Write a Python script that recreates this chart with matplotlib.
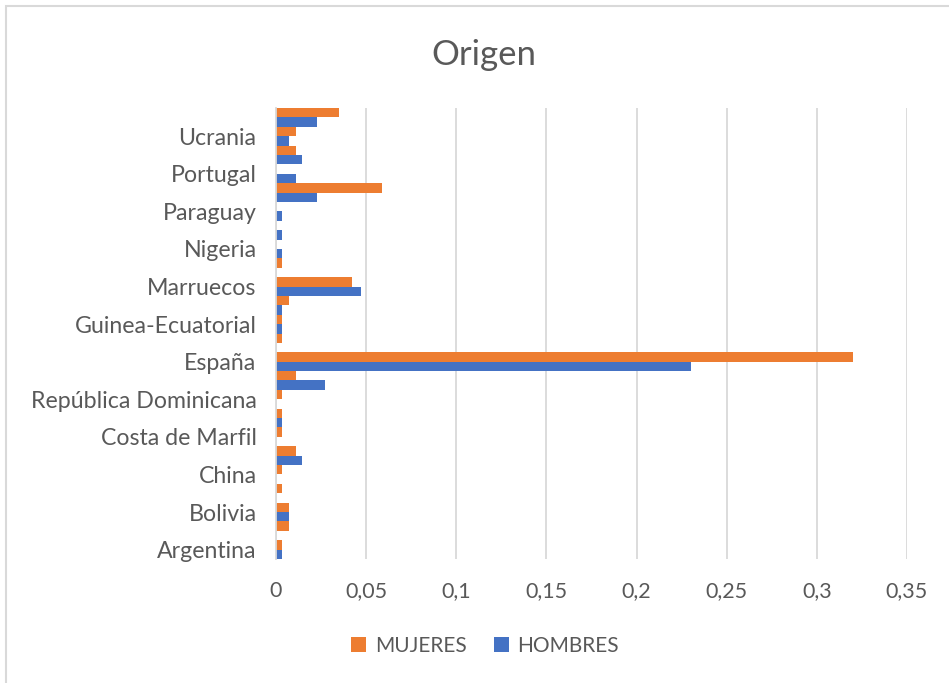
import matplotlib.pyplot as plt
import numpy as np
from matplotlib.patches import Rectangle

paises = ["Argentina", "Bangladesh", "Bolivia", "Brasil", "China", "Colombia",
          "Costa de Marfil", "Cuba", "República Dominicana", "Ecuador", "España",
          "Francia", "Guinea-Ecuatorial", "Italia", "Marruecos", "México",
          "Nigeria", "Pakistán", "Paraguay", "Perú", "Portugal", "Rumanía",
          "Ucrania", "Venezuela"]
mujeres = [0.0036, 0.0072, 0.0072, 0.0036, 0.0036, 0.011, 0.0036, 0.0036, 0.0036,
           0.011, 0.32, 0.0036, 0.0036, 0.0072, 0.042, 0.0036, 0, 0, 0,
           0.059, 0, 0.011, 0.011, 0.035]
hombres = [0.0036, 0, 0.0072, 0, 0, 0.0145, 0, 0.0036, 0, 0.027, 0.23, 0,
           0.0036, 0.0036, 0.047, 0, 0.0036, 0.0036, 0.0036, 0.023, 0.011,
           0.0145, 0.0072, 0.023]

naranja = "#ED7D31"
azul = "#4472C4"
gris = "#595959"

plt.rcParams['font.family'] = ['Lato', 'DejaVu Sans']

fig = plt.figure(figsize=(9.49, 6.83), dpi=100)
ax = fig.add_axes([276/949, 1 - 559/683, (907-276)/949, (559-108)/683])

y = np.arange(len(paises))
ax.barh(y + 0.25, mujeres, height=0.5, color=naranja, label="MUJERES")
ax.barh(y - 0.25, hombres, height=0.5, color=azul, label="HOMBRES")

ax.set_xlim(0, 0.35)
ax.set_ylim(-0.5, len(paises) - 0.5)
xt = np.arange(0, 0.351, 0.05)
ax.set_xticks(xt)
ax.set_xticklabels(["0" if v == 0 else ("%g" % round(v, 2)).replace(".", ",") for v in xt],
                   fontsize=15.5, color=gris)
ax.set_yticks(y[::2])
ax.set_yticklabels(paises[::2], fontsize=16.7, color=gris)
ax.tick_params(axis='y', length=0, pad=14)
ax.tick_params(axis='x', length=0, pad=16)
ax.grid(axis='x', color="#D9D9D9", linewidth=1.3)
ax.set_axisbelow(True)
for s in ["top", "right", "bottom"]:
    ax.spines[s].set_visible(False)
ax.spines["left"].set_color("#D9D9D9")
ax.spines["left"].set_linewidth(1.3)

fig.text(484/949, 1 - 55/683, "Origen", ha="center", va="center",
         fontsize=25, color=gris)

fig.legend(loc="center", bbox_to_anchor=(485/949, 1 - 646/683), ncol=2,
           frameon=False, fontsize=15, handlelength=0.72, handleheight=0.72,
           handletextpad=0.4, columnspacing=1.3, labelcolor=gris)

fig.patches.append(Rectangle((6/949, -0.1), 1.2, 1 - 6/683 + 0.1,
                             transform=fig.transFigure, fill=False,
                             edgecolor="#D9D9D9", linewidth=1.5))

fig.savefig("out.png", dpi=100)
